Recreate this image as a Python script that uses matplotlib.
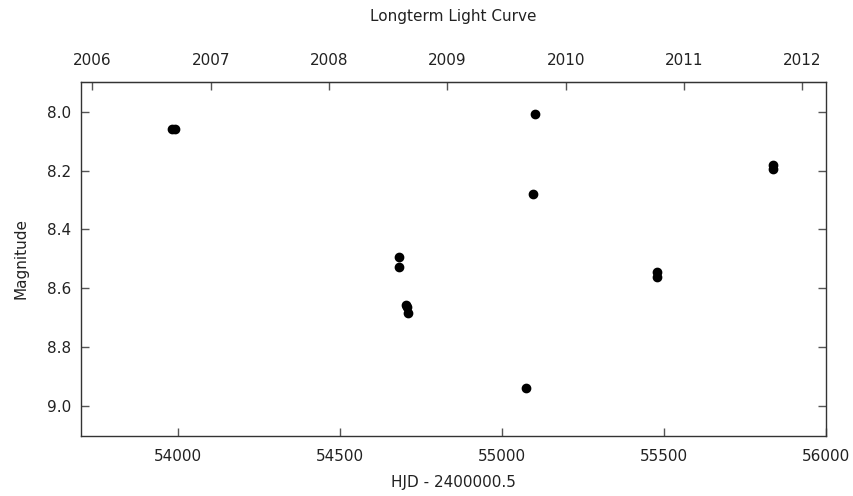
import matplotlib
matplotlib.use("Agg")
import matplotlib.pyplot as plt
import numpy as np

# Observation epochs (HJD - 2400000.5) and magnitudes
hjd = [53982, 53991, 54682, 54682, 54704, 54706, 54709,
       55074, 55096, 55102, 55480, 55480, 55838, 55838]
mag = [8.060, 8.058, 8.495, 8.527, 8.655, 8.664, 8.685,
       8.940, 8.280, 8.007, 8.545, 8.562, 8.182, 8.194]

x_ticks = [54000, 54500, 55000, 55500, 56000]
y_ticks = [8.0, 8.2, 8.4, 8.6, 8.8, 9.0]
year_ticks = [2006, 2007, 2008, 2009, 2010, 2011, 2012]

MJD_2006 = 53736.0  # MJD of 2006-01-01


def mjd_to_year(m):
    return 2006.0 + (np.asarray(m) - MJD_2006) / 365.25


def year_to_mjd(y):
    return MJD_2006 + (np.asarray(y) - 2006.0) * 365.25


plt.rcParams["font.family"] = "DejaVu Sans"
plt.rcParams["font.size"] = 11

spine_col = "#333333"
tick_col = "#555555"

fig = plt.figure(figsize=(8.54, 4.96), dpi=100)
ax = fig.add_axes([0.0945, 0.121, 0.9672 - 0.0945, 0.8353 - 0.121])

ax.plot(hjd, mag, "o", color="black", markersize=6, linestyle="none")

ax.set_xlim(53700, 56000)
ax.set_ylim(9.1017, 7.898)
ax.set_xticks(x_ticks)
ax.set_yticks(y_ticks)
ax.set_yticklabels([f"{v:.1f}" for v in y_ticks])

for s in ax.spines.values():
    s.set_color(spine_col)
    s.set_linewidth(1.0)

ax.tick_params(axis="x", direction="in", length=5.5, width=1, color=tick_col,
               pad=9.5, labelcolor="#222222", top=False)
ax.tick_params(axis="y", direction="in", length=5.5, width=1, color=tick_col,
               pad=7, labelcolor="#222222", right=True)

top = ax.secondary_xaxis("top", functions=(mjd_to_year, year_to_mjd))
top.set_xticks(year_ticks)
top.set_xticklabels([str(y) for y in year_ticks])
top.tick_params(direction="in", length=5.5, width=1, color=tick_col,
                pad=9.5, labelcolor="#222222")
top.spines["top"].set_color(spine_col)

ax.set_xlabel("HJD - 2400000.5", labelpad=8, color="#222222")
ax.set_ylabel("Magnitude", labelpad=13, color="#222222")
fig.text(0.5305, 1 - 17 / 496, "Longterm Light Curve", ha="center",
         va="center", color="#222222", fontsize=11)

fig.savefig("out.png", dpi=100)
